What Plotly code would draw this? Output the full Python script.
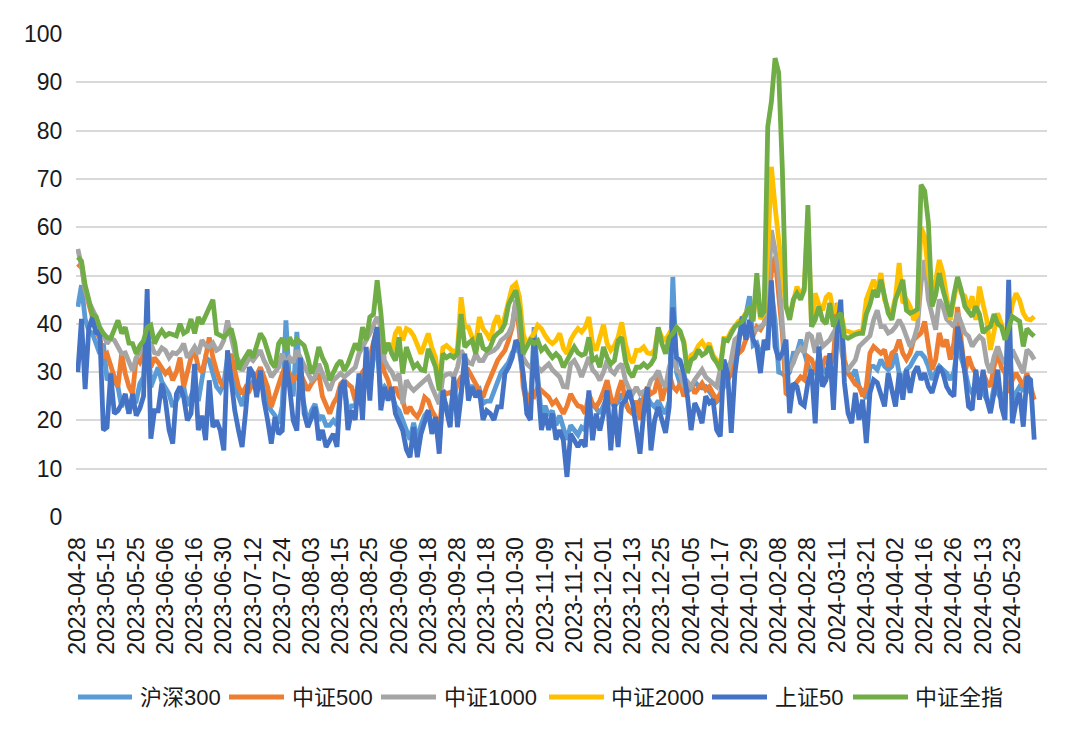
import pandas as pd
import plotly.graph_objects as go

# ---------------- categories (trading days) ----------------
holidays = ["2023-05-01", "2023-05-02", "2023-05-03", "2023-06-22", "2023-06-23",
            "2023-09-29", "2023-10-02", "2023-10-03", "2023-10-04", "2023-10-05", "2023-10-06",
            "2024-01-01", "2024-02-09", "2024-02-12", "2024-02-13", "2024-02-14", "2024-02-15",
            "2024-02-16", "2024-04-04", "2024-04-05", "2024-05-01", "2024-05-02", "2024-05-03"]
dates = [d.strftime("%Y-%m-%d") for d in pd.bdate_range("2023-04-28", "2024-05-31")
         if d.strftime("%Y-%m-%d") not in holidays]

tick_labels = ["2023-04-28", "2023-05-15", "2023-05-25", "2023-06-06", "2023-06-16", "2023-06-30",
               "2023-07-12", "2023-07-24", "2023-08-03", "2023-08-15", "2023-08-25", "2023-09-06",
               "2023-09-18", "2023-09-28", "2023-10-18", "2023-10-30", "2023-11-09", "2023-11-21",
               "2023-12-01", "2023-12-13", "2023-12-25", "2024-01-05", "2024-01-17", "2024-01-29",
               "2024-02-08", "2024-02-28", "2024-03-11", "2024-03-21", "2024-04-02", "2024-04-16",
               "2024-04-26", "2024-05-13", "2024-05-23"]

# ---------------- series values ----------------
hs300 = [43.5, 48, 41, 38.6, 38, 36, 33.8, 35.9, 28.3, 29.7,
         28, 26.9, 22.8, 25, 21.4, 24.1, 24, 27.6, 29, 42,
         26.9, 29, 31, 28, 26.9, 25.5, 22.8, 24, 25.5, 27,
         23, 25, 27, 24, 28, 33, 32.4, 30, 27, 26,
         27.6, 33, 31, 27, 24.8, 23, 26, 26.9, 28, 27,
         29, 26, 23.4, 22, 21, 19.3, 23, 40.7, 27.6, 25,
         38.3, 27, 23, 19.3, 22, 23.4, 20, 21, 19, 19,
         20, 19, 26, 27, 22, 23, 23, 28, 24, 33,
         27, 33, 35, 26, 27, 26, 25.5, 23, 22, 20,
         18, 16, 19.5, 16, 19, 21, 22, 19, 20, 15,
         25, 23, 21, 27, 22, 26, 31, 27, 27, 26,
         26.5, 23.5, 24, 24, 26, 28, 30, 31, 32, 34,
         35, 34, 29, 24, 23, 39.3, 29, 21, 23, 21,
         22, 19, 21, 18, 16, 19, 18, 17, 18.6, 18,
         24.1, 23.4, 22.5, 21.4, 23, 24.8, 24.1, 22.8, 24, 25.5,
         23.4, 22.1, 22, 22.8, 24.1, 23.4, 24.8, 23.5, 22.8, 24.1,
         22.5, 21.4, 24, 49.7, 30, 27.6, 27.4, 26, 26.7, 28.1,
         27, 26.7, 27, 26, 25, 23.9, 24.6, 32.2, 30.8, 29,
         34.9, 37, 39, 41.8, 45.7, 35.5, 36, 33.5, 35.5, 36.9,
         47, 40.8, 30, 29.7, 29, 30, 33.9, 34, 36.7, 34,
         31.5, 29.8, 29.8, 33.2, 31, 29.8, 31.2, 33, 39.4, 40.8,
         31.2, 29.8, 29, 30.5, 27, 25.7, 24.5, 31.2, 31.2, 30.5,
         32.6, 31.2, 30.5, 31.2, 33.9, 29.8, 28.4, 30.5, 31.2, 32.6,
         33.9, 33.9, 33, 31.2, 28.4, 30, 31.2, 30.5, 29.8, 28.4,
         30, 35.3, 33, 30.5, 27, 25.7, 27, 28.4, 25.7, 24,
         22.9, 27, 25.7, 24.3, 26, 40, 24.3, 25.7, 27, 26,
         27.8, 25.7, 24.3]

zz500 = [51.7, 52.5, 47, 44, 42, 38.5, 37, 33, 33.8, 31,
         29, 27, 33.8, 29.7, 27, 25.5, 33, 32, 33.8, 35.2,
         31, 33, 32, 31, 29.7, 30.5, 28.3, 30, 33, 26.9,
         29.7, 33, 34.5, 31, 30, 33, 37.2, 33, 30.3, 28,
         26.9, 31, 33.8, 30.3, 27, 25.5, 26.9, 26.2, 28, 29.7,
         31, 29, 26.9, 22.8, 25, 26.9, 29.7, 31, 29.7, 28.3,
         29, 29.7, 28, 26.2, 27.6, 28.5, 29.7, 25, 23, 21.4,
         23.5, 24.8, 27.6, 28.3, 27.5, 26.9, 24.1, 28.3, 30, 31,
         33, 35.9, 39.3, 33, 30, 28.3, 25.5, 26.9, 25, 24.1,
         21.4, 22.8, 21.5, 20.7, 22.1, 24.8, 24.1, 22, 20.7, 17.4,
         26.2, 25.5, 25.8, 24.8, 27.6, 29, 29.5, 30.3, 29, 27.5,
         26.2, 24.8, 27, 29, 30.3, 32.4, 33.5, 34.5, 36.6, 39.3,
         44.8, 38, 26.9, 23.4, 25.5, 25, 26.9, 26.2, 25.5, 24.8,
         23.4, 24.1, 22.8, 21.4, 23, 25.5, 24.1, 23, 22.8, 21.4,
         25.5, 23.5, 22.8, 24.1, 26, 28.3, 24.8, 22.8, 26, 28.3,
         24.1, 22, 21.4, 24.1, 20.1, 24.8, 26.9, 25.5, 26, 29,
         24.1, 26.9, 29.7, 27, 26.2, 27.6, 25, 26.5, 27.7, 25.6,
         26.5, 27.7, 26.3, 27, 25.5, 24.3, 25.6, 27, 28.5, 29.8,
         33.2, 34, 34.6, 36.7, 38.1, 37.5, 39.4, 38.8, 40.1, 44,
         50.5, 53.9, 46, 38, 25.6, 25, 27, 28, 29, 28.4,
         33.2, 32.6, 30.5, 29.8, 31.2, 33.2, 32, 32.6, 44.3, 42.2,
         32.6, 29.8, 28.4, 27.5, 27, 25, 27, 33.9, 35.3, 34.5,
         33.9, 34.6, 31.2, 33.9, 34.5, 36.7, 33.9, 32.6, 33.9, 36.7,
         37.4, 38.1, 40.5, 35.3, 30.5, 32.6, 38.1, 35.3, 36.7, 32.6,
         36, 43.5, 35.3, 29.8, 33.2, 31, 29.8, 27, 29.8, 28,
         27, 31.2, 33.9, 31, 29.8, 25.7, 28.4, 29.8, 28.5, 27,
         29.8, 27, 24.3]

zz1000 = [55.5, 52, 47, 44.5, 43, 41.4, 38.5, 38, 35.9, 37,
          36.6, 35, 33.8, 34, 32.4, 30.3, 33, 34, 35.2, 36.5,
          35.9, 34, 33.8, 35, 34.5, 33, 34, 33.8, 34.5, 35.9,
          33, 34, 35.2, 33.8, 36.6, 35.5, 35.2, 36, 34.5, 35,
          36.6, 40.7, 37.2, 34, 32.4, 30.3, 31.5, 33, 32.4, 33.5,
          34.5, 32.4, 31, 29, 30, 31, 33.8, 31.7, 33, 32,
          34.5, 33, 31, 29.7, 28.3, 29, 31.7, 29.7, 28, 26.2,
          28.3, 29, 29.7, 29, 29.7, 30.5, 31, 33.8, 35, 36.6,
          38, 40, 41.4, 39.3, 32.4, 31, 30, 28.3, 29.7, 23.4,
          28.3, 27, 26.2, 26.9, 27.5, 28.3, 29, 26.9, 25, 23.4,
          29, 29.5, 29.7, 29, 31, 34.5, 33.1, 32, 31.7, 33.8,
          32.4, 32.4, 33.8, 34.2, 34.5, 35.2, 36.6, 37.2, 38, 39.7,
          45, 40, 33, 31.7, 31, 31.7, 31, 30.3, 31, 31.7,
          30.5, 29.7, 29, 27, 26.9, 31.7, 32.4, 31, 29, 31,
          33.1, 30.5, 29.7, 28.3, 30, 32.4, 30.3, 29.7, 31, 31.7,
          28.3, 26.5, 25.5, 26.9, 25.5, 26, 26.2, 28.3, 29, 30.3,
          28, 26.9, 31, 33, 30.5, 29.8, 27, 28, 27, 28.4,
          29.5, 30.5, 29, 28.4, 27.5, 27, 30.5, 29.8, 29.8, 32.6,
          36.7, 37.5, 38.1, 38.8, 39.4, 38.5, 38.8, 39.4, 40, 43.6,
          59.4, 55.3, 50.5, 40, 29.8, 30.5, 31.9, 34, 35, 34,
          38.1, 37.4, 34, 38.1, 35.3, 36, 36.7, 38.1, 39.4, 35.3,
          31.2, 30.5, 31.5, 32.5, 35.3, 36, 36.7, 37.5, 40.8, 42.8,
          39.4, 39.4, 38.1, 38.5, 39.4, 40.8, 39.4, 37, 35.3, 36.7,
          39.4, 48.4, 53.2, 45, 42.2, 38.8, 45, 43.6, 41, 40.1,
          39.4, 42.2, 40, 38.1, 37.4, 35.3, 36.5, 37.4, 36.7, 32,
          29.8, 33.2, 35.3, 33, 31.9, 30.5, 34.6, 33, 31.2, 29.8,
          34.6, 33.9, 32.6]

zz2000 = [None] * 84 + [
          34.5, 36, 34, 38, 39.3, 36.6,
          39, 38.6, 37.5, 35.9, 33.8, 35.9, 38, 35, 33, 27,
          35, 35.5, 34.8, 34.1, 34.8, 45.5, 39.3, 39.3, 37.2, 35.9,
          41.4, 39, 38, 36.6, 40, 41.7, 38.6, 41.4, 45, 47.6,
          48.3, 45.5, 38, 35.5, 37, 38, 39.7, 39, 37.6, 36.5,
          35.9, 36.6, 38, 35, 33.8, 36.6, 38, 39, 38.3, 39.3,
          41.4, 35.9, 34.5, 37, 39.8, 35.9, 34.5, 35.5, 37.2, 40.3,
          35.9, 33, 31.9, 34.5, 34.5, 35.2, 34, 33.8, 34.5, 39,
          37.2, 36.6, 38, 39.3, 39, 38, 36.5, 31, 33.5, 34,
          35.5, 36.3, 35, 36, 33.5, 32.5, 31.5, 37, 37, 38.5,
          39.5, 40.5, 41, 42.5, 43.5, 41, 48, 41, 42.2, 55,
          72.5, 64.3, 58, 50, 43.6, 41.5, 45, 47.7, 46, 47.5,
          62, 39.4, 46.3, 44, 42.8, 45.5, 46.3, 42.2, 43.6, 42.5,
          38.8, 38.5, 38.1, 38.1, 38.5, 38.8, 45, 47, 49.1, 47,
          50.5, 45, 43, 42.2, 45.5, 52.6, 44.3, 45, 43.6, 40.8,
          42, 60, 58, 50.5, 47, 49, 53.2, 50.5, 46.3, 40.8,
          45, 49.1, 46.3, 45.7, 43, 45.7, 40.8, 47.7, 44, 40.8,
          34.6, 38.8, 42.2, 40, 37.4, 39.4, 44, 46.3, 44.9, 42.2,
          41, 40.8, 41.5]

sz50 = [30, 41, 26.5, 39, 41.4, 37.9, 38.6, 18, 18.6, 29.7,
        21.4, 22, 23.4, 25.5, 21.4, 25.5, 21, 22.5, 25, 47.2,
        16.2, 22, 22, 27.6, 24.1, 18, 15.2, 25.5, 27, 24.8,
        20, 21.4, 31.7, 18, 21, 15.9, 28.3, 18.6, 20, 18,
        13.8, 34.5, 28.5, 22, 18, 14.5, 22, 31, 29.7, 24.8,
        30.3, 24.1, 20, 15.2, 20.7, 17.2, 17.9, 32.4, 26.9, 20,
        17.9, 33, 21.4, 18.6, 20.5, 22.8, 15.9, 18, 14.5, 15.9,
        17.2, 14.5, 26.9, 28.3, 18, 22.1, 20.1, 29.7, 20.1, 35.2,
        24.1, 35.9, 39.3, 22.1, 26.9, 24.1, 26.9, 21.4, 19.3, 17.9,
        14, 12.4, 18.6, 12.4, 17.2, 20, 22.1, 17.2, 20.7, 13.1,
        26.2, 22, 18.6, 29, 18.6, 25, 33.8, 24.1, 26.9, 24.8,
        26.2, 20.1, 22, 21.4, 20.1, 22.8, 22.8, 29.7, 31, 33,
        36.6, 35.2, 29.7, 21.4, 20.1, 37, 28.3, 18, 21.4, 18,
        21.4, 16, 18, 15.9, 8.3, 17.2, 15.9, 14.5, 15.9, 14.5,
        26.2, 15.9, 21.4, 17.9, 21.4, 26.2, 13.8, 23.4, 14.5, 23.4,
        24.1, 26.2, 23.4, 17.9, 13.1, 21.4, 26.9, 13.8, 20, 22.8,
        20, 17.4, 22.8, 43.4, 33, 32.4, 29.8, 25, 18, 23.6,
        22, 19.4, 25, 23.6, 24.3, 18, 16.7, 32.6, 29.8, 17.4,
        29.8, 36.7, 41.5, 36.7, 40.8, 36.7, 35.3, 29.8, 36.7, 34.6,
        49, 35.3, 32.6, 34, 36.7, 21.5, 27.7, 27, 23.6, 23,
        27.8, 30.5, 19.4, 35.3, 27, 28.4, 33.9, 22.2, 37.9, 45,
        27.8, 21.5, 19.4, 25.7, 20.1, 24.3, 15.3, 25.7, 28.4, 27.8,
        25, 22.9, 29.8, 25.7, 22.9, 29.8, 24.3, 30.5, 25.7, 29.8,
        31.2, 28.4, 29.8, 27, 25.7, 28.4, 31.2, 29.8, 27, 25.7,
        25, 39.4, 35.3, 29.8, 22.9, 22.2, 30.5, 24.3, 30.5, 24.3,
        21.5, 25.7, 30.5, 22.9, 20.1, 49.1, 19.4, 23.6, 25.7, 18.7,
        29.1, 28.4, 16]

zzqz = [53.8, 53, 48, 44.8, 42, 41.5, 39.3, 38, 37.2, 37,
        39, 40.7, 38, 39.3, 36, 35.9, 33.8, 35.5, 36.5, 39.3,
        39.7, 35.9, 37.5, 38.6, 37.5, 38, 37.8, 37.5, 40, 38,
        38.5, 41, 38, 41.4, 40, 41.5, 43, 45, 38, 37.5,
        37.2, 38, 39, 36, 30.5, 32, 33.5, 34.5, 33, 36,
        38, 36.8, 34.5, 32, 31, 35.9, 37, 34.5, 37.2, 35.5,
        36.8, 36, 35.5, 33, 29.7, 31.5, 35.2, 33, 31.5, 28.3,
        30, 31.5, 32.4, 30.3, 31.7, 33.5, 35.9, 34.5, 39.3, 36.6,
        41.4, 42, 49, 42.4, 33.8, 36, 33.8, 32.4, 37.2, 29.7,
        35.2, 33, 31, 31.7, 30.5, 30.3, 34.8, 33, 31, 26.2,
        33.8, 33, 33.5, 33, 33.8, 42, 35.2, 36, 36.6, 33.8,
        38, 35, 34.5, 35.2, 37.2, 38, 38.6, 40, 44, 45.5,
        46.9, 42.8, 33.8, 35.2, 36.6, 35.9, 36.5, 34.5, 35.2, 34,
        33, 33.8, 33, 31, 32.5, 33.8, 35.2, 34, 33.5, 33.8,
        37.2, 32.4, 33, 31, 35.2, 33, 31.7, 32.4, 36.5, 37.2,
        32.4, 30, 29, 31, 31, 31.7, 31, 31.7, 33, 39.3,
        35.9, 33.8, 37.2, 38, 39.3, 38.5, 36, 29.8, 32.5, 33,
        34.6, 33.5, 34, 35.3, 33, 32, 30.5, 36.7, 36.5, 38,
        39.4, 40, 40.5, 42, 43.6, 40.5, 50.5, 41.5, 42.5, 80.8,
        86, 95, 92, 72, 43.6, 40.8, 45, 46.3, 45, 47,
        64.6, 39.4, 40.8, 43.6, 40.8, 40, 44.3, 39.4, 41.5, 42.2,
        37.4, 37, 37.5, 37.8, 38, 38, 42, 44, 47, 45.5,
        49.1, 45, 42.2, 40.8, 45, 47, 49.1, 42.8, 42.2, 42.5,
        43, 68.8, 67.5, 61, 43.6, 46, 50.5, 47, 44, 41.5,
        46, 49.7, 47, 43.6, 42.5, 41.5, 43.6, 42, 38.1, 39,
        39.4, 42, 40, 39.4, 36.7, 39, 41.5, 41, 40.5, 35.3,
        39, 38.1, 37.4]

series_names = ["沪深300", "中证500", "中证1000", "中证2000", "上证50", "中证全指"]
series_values = [hs300, zz500, zz1000, zz2000, sz50, zzqz]
series_colors = ["#5B9BD5", "#ED7D31", "#A5A5A5", "#FFC000", "#4472C4", "#70AD47"]

# ---------------- figure ----------------
FONT = "Liberation Sans, Arial, Noto Sans CJK SC, sans-serif"
n = min(len(dates), *[len(v) for v in series_values])

fig = go.Figure()
for name, vals, col in zip(series_names, series_values, series_colors):
    fig.add_trace(go.Scatter(x=dates[:n], y=vals[:n], name=name, mode="lines",
                             line=dict(color=col, width=4.8), connectgaps=False,
                             showlegend=False))

# plot-area geometry in pixels (used only for the hand-placed legend)
L, R, T, B = 76, 33, 34, 224
W, H = 1080, 741
pw, ph = W - L - R, H - T - B

def px_x(p):
    return (p - L) / pw

def px_y(p):
    return (H - B - p) / ph

legend_items = [(78, 132, 138), (229, 284, 290), (381, 436, 442),
                (549, 604, 609), (712, 767, 773), (853, 908, 913)]
legend_y = 697
for (x0, x1, tx), name, col in zip(legend_items, series_names, series_colors):
    fig.add_shape(type="line", xref="paper", yref="paper",
                  x0=px_x(x0), x1=px_x(x1), y0=px_y(legend_y), y1=px_y(legend_y),
                  line=dict(color=col, width=5))
    fig.add_annotation(xref="paper", yref="paper", x=px_x(tx), y=px_y(legend_y),
                       text=name, showarrow=False, xanchor="left", yanchor="middle",
                       font=dict(family=FONT, size=22, color="#1a1a1a"))

fig.update_layout(
    width=W, height=H,
    margin=dict(l=L, r=R, t=T, b=B, pad=0),
    paper_bgcolor="white", plot_bgcolor="white",
    font=dict(family=FONT, size=23, color="#1a1a1a"),
    showlegend=False,
)
fig.update_xaxes(type="category", range=[-0.5, 265.5], tickmode="array",
                 tickvals=tick_labels, ticktext=tick_labels, tickangle=-90,
                 showgrid=False, zeroline=False, showline=False,
                 ticks="outside", ticklen=10, tickcolor="rgba(0,0,0,0)",
                 tickfont=dict(size=23))
fig.update_yaxes(range=[0, 100], dtick=10, showgrid=True, gridcolor="#D9D9D9",
                 gridwidth=1.5, zeroline=False, showline=False,
                 ticks="outside", ticklen=8, tickcolor="rgba(0,0,0,0)",
                 tickfont=dict(size=23))

fig.write_html("out.html", config={"displayModeBar": False},
               post_script="document.body.style.margin='0';")
